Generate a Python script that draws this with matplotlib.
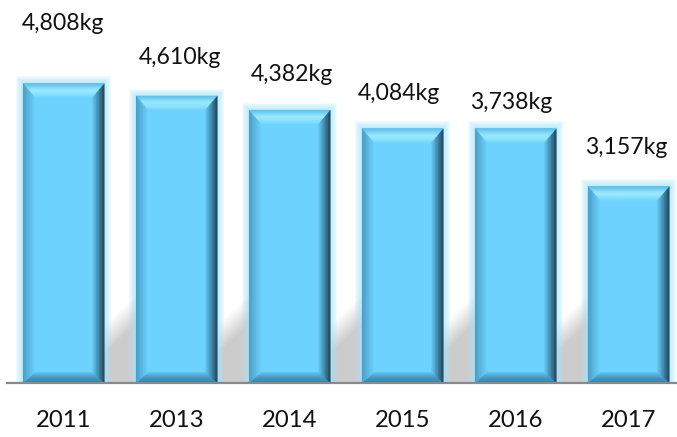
import numpy as np
import matplotlib
matplotlib.use("Agg")
import matplotlib.pyplot as plt
from matplotlib.patches import Polygon, Rectangle
from matplotlib.colors import to_rgb

# ---------------- data ----------------
years = ["2011", "2013", "2014", "2015", "2016", "2017"]
bar_heights = [4808, 4610, 4382, 4084, 4084, 3157]
label_values = [4808, 4610, 4382, 4084, 3738, 3157]
label_dx_px = [-1, 3.5, 2.7, -4, -5, -2]
label_dy_px = [53, 32, 28.6, 28.3, 19, 32.7]

# ---------------- layout ----------------
W, H, DPI = 677, 437, 100
fig = plt.figure(figsize=(W / DPI, H / DPI), dpi=DPI)
ax_left_px, ax_width_px = 7.2, 678.0
baseline_px = 53.7               # from bottom
ax_height_px = H - baseline_px
ax = fig.add_axes([ax_left_px / W, baseline_px / H, ax_width_px / W, ax_height_px / H])

px_per_kg = 300.0 / 4808.0
ymax = ax_height_px / px_per_kg
ax.set_xlim(-0.5, len(years) - 0.5)
ax.set_ylim(0, ymax)
dx = (len(years)) / ax_width_px      # data units per pixel (x)
dy = ymax / ax_height_px             # data units per pixel (y)

FONT = ["Lato", "DejaVu Sans"]
plt.rcParams["font.family"] = FONT

face = "#6DD3FE"
bar_w = 81.5 * dx
x = np.arange(len(years))
bars = ax.bar(x, bar_heights, width=bar_w, color=face, zorder=5, linewidth=0)

# ---------------- shadow behind bars ----------------
sh_h_px = 120
x_lo, x_hi = x[0], x[-1]
ncols = int((x_hi - x_lo) / dx)
nrows = sh_h_px
xs = np.linspace(x_lo, x_hi, ncols)
vs = np.linspace(sh_h_px, 0, nrows)  # px above baseline, top row first
alpha = np.zeros((nrows, ncols))
half = bar_w / 2
for i in range(len(x) - 1):
    gl = x[i] + half
    gr = x[i + 1] - half
    m = (xs >= gl - 2 * dx) & (xs <= gr + 2 * dx)
    u = np.clip((xs[m] - gl) / (gr - gl), 0, 1)
    v0 = 44 + 30 * u
    a = np.clip((v0[None, :] - vs[:, None]) / 30 + 0.5, 0, 1)
    alpha[:, m] = a
img = np.zeros((nrows, ncols, 4))
img[..., :3] = 0.80
img[..., 3] = alpha
ax.imshow(img, extent=(x_lo, x_hi, 0, sh_h_px * dy), aspect="auto",
          interpolation="bilinear", zorder=1)

# ---------------- glow ----------------
for p in bars:
    x0, w, h = p.get_x(), p.get_width(), p.get_height()
    for k in range(1, 8):
        ax.add_patch(Rectangle((x0 - k * dx, 0), w + 2 * k * dx, h + k * dy,
                               facecolor="#A2E6FF", edgecolor="none",
                               alpha=0.14, zorder=2))

# ---------------- bevels ----------------
def grad(stops, t):
    ts = [s[0] for s in stops]
    cs = np.array([to_rgb(s[1]) for s in stops])
    return tuple(np.interp(t, ts, cs[:, j]) for j in range(3))

top_st = [(0, "#55B9E5"), (0.5, "#A6EFFF"), (0.8, "#8FE4FF"), (1, "#74D7FE")]
left_st = [(0, "#3C8FB9"), (0.5, "#56B3DC"), (1, "#6BD0FB")]
right_st = [(0, "#0D1C26"), (0.25, "#22465B"), (0.6, "#3E84A6"), (1, "#66C6F0")]
bot_st = [(0, "#2B6382"), (0.5, "#3D85AA"), (1, "#5FBFEA")]

wt, wb, wl, wr = 14 * dy, 11 * dy, 12 * dx, 12 * dx
N = 16
for p in bars:
    x0, w, h = p.get_x(), p.get_width(), p.get_height()
    x1, y0, y1 = x0 + w, 0.0, h
    for n in range(N):
        t0, t1 = n / N, (n + 1) / N
        tm = (t0 + t1) / 2
        o = dict(lw=0, zorder=6, closed=True)
        # top
        ax.add_patch(Polygon([(x0 + t0 * wl, y1 - t0 * wt), (x1 - t0 * wr, y1 - t0 * wt),
                              (x1 - t1 * wr, y1 - t1 * wt), (x0 + t1 * wl, y1 - t1 * wt)],
                             facecolor=grad(top_st, tm), **o))
        # bottom
        ax.add_patch(Polygon([(x0 + t0 * wl, y0 + t0 * wb), (x1 - t0 * wr, y0 + t0 * wb),
                              (x1 - t1 * wr, y0 + t1 * wb), (x0 + t1 * wl, y0 + t1 * wb)],
                             facecolor=grad(bot_st, tm), **o))
        # left
        ax.add_patch(Polygon([(x0 + t0 * wl, y0 + t0 * wb), (x0 + t0 * wl, y1 - t0 * wt),
                              (x0 + t1 * wl, y1 - t1 * wt), (x0 + t1 * wl, y0 + t1 * wb)],
                             facecolor=grad(left_st, tm), **o))
        # right
        ax.add_patch(Polygon([(x1 - t0 * wr, y0 + t0 * wb), (x1 - t0 * wr, y1 - t0 * wt),
                              (x1 - t1 * wr, y1 - t1 * wt), (x1 - t1 * wr, y0 + t1 * wb)],
                             facecolor=grad(right_st, tm), **o))

# ---------------- labels ----------------
for p, v, ox, oy in zip(bars, label_values, label_dx_px, label_dy_px):
    ax.annotate(f"{v:,}kg", (p.get_x() + p.get_width() / 2, p.get_height()),
                xytext=(ox, oy), textcoords="offset pixels", ha="center", va="baseline",
                fontsize=16.6, color="#111111", family=FONT, annotation_clip=False,
                zorder=10)

# ---------------- axes styling ----------------
ax.set_xticks(x)
ax.set_xticklabels(years, fontsize=17.2, color="#111111", family=FONT)
ax.tick_params(axis="x", length=0, pad=19.4)
ax.set_yticks([])
for s in ["top", "right", "left"]:
    ax.spines[s].set_visible(False)
ax.spines["bottom"].set_color("#8A8A8A")
ax.spines["bottom"].set_linewidth(1.6)
ax.spines["bottom"].set_zorder(8)
ax.set_facecolor("none")

fig.savefig("out.png", dpi=DPI, facecolor="white")
